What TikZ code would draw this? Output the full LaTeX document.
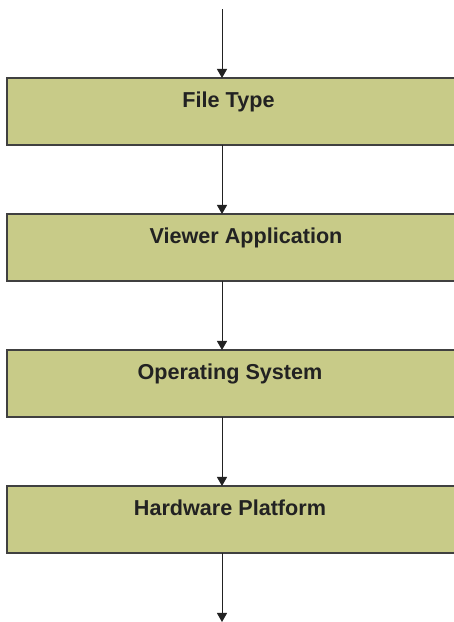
\documentclass[tikz,border=0pt]{standalone}
\usepackage{fontspec}
\setmainfont{Liberation Sans}
\usetikzlibrary{arrows.meta}
\definecolor{boxfill}{RGB}{200,203,136}
\definecolor{boxline}{RGB}{64,64,64}
\definecolor{txt}{RGB}{34,34,34}
\tikzset{
  stagebox/.style={draw=boxline, line width=1.1pt, fill=boxfill, minimum width=453pt, minimum height=67pt, inner sep=0pt, outer sep=0pt},
  stagelabel/.style={font=\bfseries\fontsize{21.6}{25}\selectfont, text=txt, anchor=base, inner sep=0pt},
  flow/.style={draw=txt, line width=0.9pt, -{Triangle[width=10pt,length=9pt]}}
}
\begin{document}
\begin{tikzpicture}[x=1pt,y=1pt]
\useasboundingbox (0,0) rectangle (454,622);
\clip (0,0) rectangle (454,622);
\fill[white] (0,0) rectangle (454,622);
\node[stagebox] (b1) at (233.5,510.5) {};
\node[stagebox] (b2) at (233.5,374.5) {};
\node[stagebox] (b3) at (233.5,238.5) {};
\node[stagebox] (b4) at (233.5,102.5) {};
\node[stagelabel] (t1) at (228.5,514) {File Type};
\node[stagelabel] (t2) at (246,378) {Viewer Application};
\node[stagelabel] (t3) at (230,242) {Operating System};
\node[stagelabel] (t4) at (230,106) {Hardware Platform};
\coordinate (start) at (222,612.5);
\coordinate (finish) at (222,0);
\draw[flow] (start) -- (start |- b1.north);
\draw[flow] (b1.south -| start) -- (b2.north -| start);
\draw[flow] (b2.south -| start) -- (b3.north -| start);
\draw[flow] (b3.south -| start) -- (b4.north -| start);
\draw[flow] (b4.south -| start) -- (finish);
\end{tikzpicture}
\end{document}
